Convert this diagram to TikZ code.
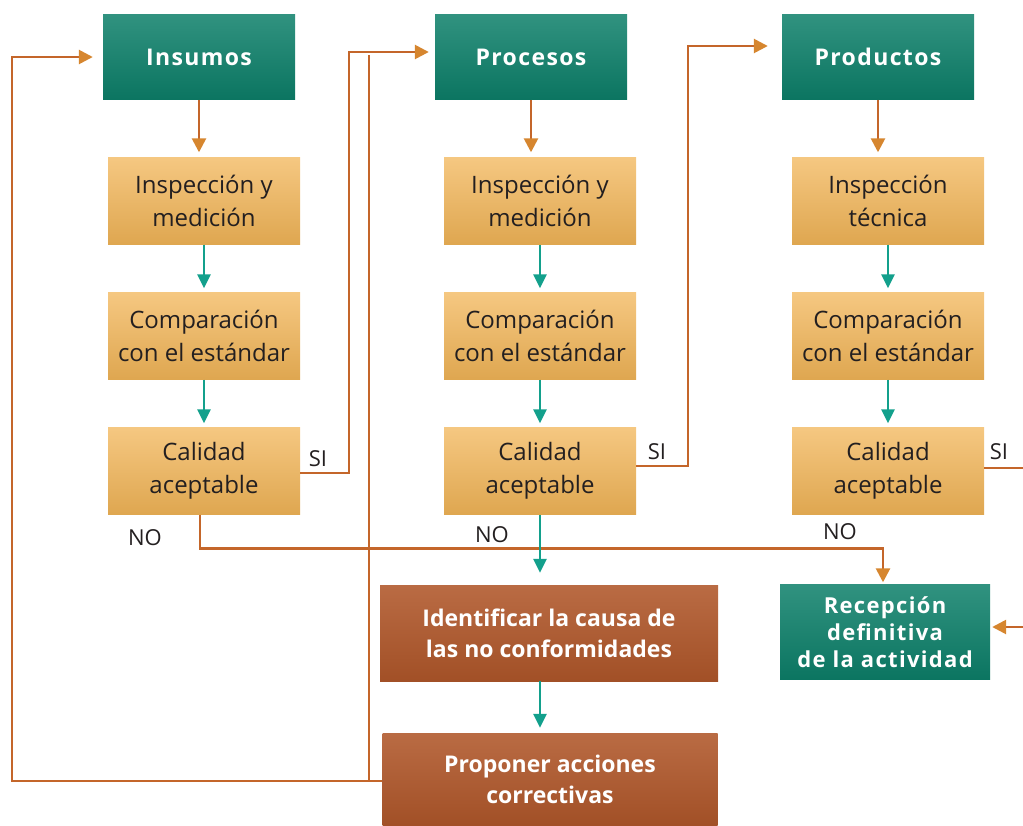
\documentclass[tikz,border=0pt]{standalone}
\usepackage{fontspec}
\setmainfont{Open Sans}
\usepackage{tikz}
\usetikzlibrary{arrows.meta, positioning, calc}
\definecolor{myteal}{RGB}{12,127,105}
\definecolor{myyellow}{RGB}{242,181,87}
\definecolor{mybrown}{RGB}{176,87,42}
\definecolor{myorange}{RGB}{196,102,42}
\definecolor{mytip}{RGB}{214,134,47}
\definecolor{mygreen}{RGB}{19,160,140}
\definecolor{mydark}{RGB}{35,31,32}
\tikzset{
  head/.style={rectangle, top color=myteal!85!white, bottom color=myteal!92!black, text=white, minimum width=192pt, minimum height=85pt, align=center, font=\fontsize{23}{28}\selectfont\bfseries\addfontfeatures{LetterSpace=6}},
  check/.style={rectangle, top color=myyellow!75!white, bottom color=myyellow!92!black, text=mydark, minimum width=192pt, minimum height=87pt, align=center, font=\fontsize{24}{33}\selectfont},
  action/.style={rectangle, top color=mybrown!88!white, bottom color=mybrown!92!black, text=white, minimum width=338pt, minimum height=96pt, align=center, font=\fontsize{23}{31}\selectfont\bfseries},
  lbl/.style={text=mydark, font=\fontsize{22}{26}\selectfont},
  oarrow/.style={-{Triangle[length=14pt,width=14pt,color=mytip]}, line width=2.6pt, color=myorange},
  garrow/.style={-{Triangle[length=14pt,width=13pt]}, line width=2.6pt, color=mygreen},
  oline/.style={line width=2.6pt, color=myorange}
}
\begin{document}
\begin{tikzpicture}[x=1pt, y=-1pt]
  \useasboundingbox (0,0) rectangle (1023,825);
  \clip (0,0) rectangle (1023,825);

  % Column 1
  \node[head] (ins) at (199,57) {Insumos};
  \node[check] (inspA) at (204,201) {Inspección y\\medición};
  \node[check] (compA) at (204,336) {Comparación\\con el estándar};
  \node[check] (calA) at (204,471) {Calidad\\aceptable};

  % Column 2
  \node[head] (proc) at (531,57) {Procesos};
  \node[check] (inspB) at (540,201) {Inspección y\\medición};
  \node[check] (compB) at (540,336) {Comparación\\con el estándar};
  \node[check] (calB) at (540,471) {Calidad\\aceptable};

  % Column 3
  \node[head] (prod) at (878,57) {Productos};
  \node[check] (inspC) at (888,201) {Inspección\\técnica};
  \node[check] (compC) at (888,336) {Comparación\\con el estándar};
  \node[check] (calC) at (888,471) {Calidad\\aceptable};

  % Bottom row
  \node[action] (ident) at (549,633) {Identificar la causa de\\las no conformidades};
  \node[action, minimum width=335pt, minimum height=92pt] (prop) at (550,779) {Proponer acciones\\correctivas};
  \node[head, minimum width=210pt, minimum height=95pt, font=\fontsize{22}{27}\selectfont\bfseries\addfontfeatures{LetterSpace=6}] (rec) at (885,632) {Recepción\\definitiva\\de la actividad};

  % SI / NO labels
  \node[lbl] (siA) at (318,459) {SI};
  \node[lbl] (siB) at (657,452) {SI};
  \node[lbl] (siC) at (999,452) {SI};
  \node[lbl] (noA) at (145,538) {NO};
  \node[lbl] (noB) at (492,535) {NO};
  \node[lbl] (noC) at (840,532) {NO};

  % down the columns
  \draw[oarrow, shorten >=5pt] (ins.south) -- (ins.south |- inspA.north);
  \draw[oarrow, shorten >=5pt] (proc.south) -- (proc.south |- inspB.north);
  \draw[oarrow, shorten >=5pt] (prod.south) -- (prod.south |- inspC.north);
  \draw[garrow, shorten >=4pt] (inspA.south) -- (compA.north);
  \draw[garrow, shorten >=4pt] (compA.south) -- (calA.north);
  \draw[garrow, shorten >=4pt] (inspB.south) -- (compB.north);
  \draw[garrow, shorten >=4pt] (compB.south) -- (calB.north);
  \draw[garrow, shorten >=4pt] (inspC.south) -- (compC.north);
  \draw[garrow, shorten >=4pt] (compC.south) -- (calC.north);

  % SI branches
  \draw[oarrow, shorten >=6pt] ([yshift=-2pt]calA.east) -| ([xshift=-86pt, yshift=5pt]proc.west) -- ([yshift=5pt]proc.west);
  \draw[oarrow, shorten >=14pt] ([yshift=5pt]calB.east) -| ([xshift=-94pt, yshift=11pt]prod.west) -- ([yshift=11pt]prod.west);
  \draw[oarrow, shorten >=2pt] ([yshift=3pt]calC.east) -- ++(50,0) |- ([yshift=5pt]rec.east);

  % NO branches
  \draw[oarrow, shorten >=2pt] ([xshift=-4pt]calA.south) |- ++(0,34) -| ([xshift=-2pt]rec.north);
  \draw[garrow, shorten >=12pt] (calB.south) -- (calB.south |- ident.north);
  \draw[garrow, shorten >=5pt] (calB.south |- ident.south) -- (calB.south |- prop.north);

  % back to the start
  \draw[oarrow, shorten >=10pt] ([yshift=-2pt]prop.west) -| (12,57) -- (ins.west);
  \draw[oline] ([xshift=-13.5pt, yshift=-2pt]prop.west) -- ([xshift=-66pt, yshift=2pt]proc.west);
\end{tikzpicture}
\end{document}
